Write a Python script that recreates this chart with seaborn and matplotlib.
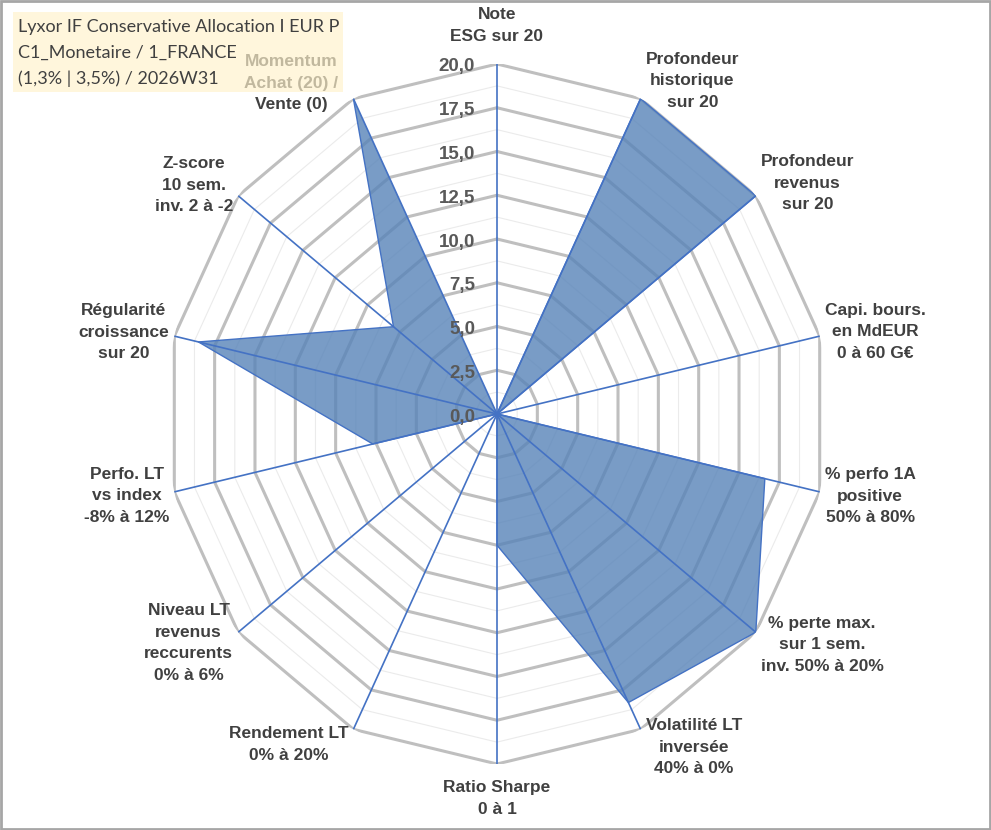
import numpy as np
import matplotlib
matplotlib.use("Agg")
import matplotlib.pyplot as plt
import matplotlib.patches as mpatches
import seaborn as sns

categories = [
    "Note\nESG sur 20",
    "Profondeur\nhistorique\nsur 20",
    "Profondeur\nrevenus\nsur 20",
    "Capi. bours.\nen MdEUR\n0 à 60 G€",
    "% perfo 1A\npositive\n50% à 80%",
    "% perte max.\nsur 1 sem.\ninv. 50% à 20%",
    "Volatilité LT\ninversée\n40% à 0%",
    "Ratio Sharpe\n0 à 1",
    "Rendement LT\n0% à 20%",
    "Niveau LT\nrevenus\nreccurents\n0% à 6%",
    "Perfo. LT\nvs index\n-8% à 12%",
    "Régularité\ncroissance\nsur 20",
    "Z-score\n10 sem.\ninv. 2 à -2",
    "Momentum\nAchat (20) /\nVente (0)",
]
values = [0, 20, 20, 0, 16.6, 20, 18.3, 7.5, 0, 0, 7.7, 18.5, 8.0, 20]
tick_values = [0, 2.5, 5, 7.5, 10, 12.5, 15, 17.5, 20]
tick_labels = ["0,0", "2,5", "5,0", "7,5", "10,0", "12,5", "15,0", "17,5", "20,0"]
title_lines = ["Lyxor IF Conservative Allocation I EUR P",
               "C1_Monetaire / 1_FRANCE",
               "(1,3% | 3,5%) / 2026W31"]

sns.set_theme(style="white")
plt.rcParams["font.family"] = ["Liberation Sans", "DejaVu Sans"]

W, H = 991, 830
fig = plt.figure(figsize=(W / 100, H / 100), dpi=100)
fig.patch.set_facecolor("white")

cx, cy, rx, ry = 497, 414, 331, 350
ax = fig.add_axes([(cx - rx) / W, (H - cy - ry) / H, 2 * rx / W, 2 * ry / H],
                  projection="polar")
ax.set_aspect("auto")
ax.set_theta_zero_location("N")
ax.set_theta_direction(-1)
ax.set_ylim(0, 20)
ax.set_xticks([])
ax.set_yticks([])
ax.grid(False)
ax.spines["polar"].set_visible(False)
ax.set_facecolor("none")

n = len(categories)
theta = np.arange(n) * 2 * np.pi / n
theta_c = np.append(theta, theta[0])

# minor rings
for r in np.arange(1.25, 20, 2.5):
    ax.plot(theta_c, [r] * (n + 1), color="#ebebeb", lw=0.8, zorder=1)
# major rings
for r in tick_values[1:]:
    ax.plot(theta_c, [r] * (n + 1), color="#bfbfbf", lw=2.2, zorder=2,
            solid_joinstyle="miter")

vals_c = np.append(values, values[0])
ax.fill(theta_c, vals_c, facecolor="#5783b8", alpha=0.8, edgecolor="none",
        zorder=3)
sns.lineplot(x=theta_c, y=vals_c, sort=False, ax=ax, color="#4472c4",
             lw=1.0, zorder=4)

# spokes
for t in theta:
    ax.plot([t, t], [0, 20], color="#4472c4", lw=1.2, zorder=5)

# radial tick labels
for v, lab in zip(tick_values, tick_labels):
    ax.annotate(lab, xy=(0, v), xytext=(-22, -3), textcoords="offset pixels",
                ha="right", va="center", fontsize=13.5, fontweight="bold",
                color="#595959", zorder=6)

# category labels
for t, lab in zip(theta, categories):
    s, c = np.sin(t), np.cos(t)
    if abs(s) < 0.05:
        if c > 0:
            kw = dict(xytext=(0, 20), ha="center", va="bottom")
        else:
            kw = dict(xytext=(0, -16), ha="center", va="top")
    elif s > 0:
        kw = dict(xytext=(5, 20 * c), ha="left", va="center")
    else:
        kw = dict(xytext=(-5 - 10 * (c > 0.85), 17 * c), ha="right", va="center")
    ax.annotate(lab, xy=(t, 20), textcoords="offset pixels",
                fontsize=12.5, fontweight="bold", color="#404040",
                multialignment="center", linespacing=1.55, zorder=6,
                annotation_clip=False, **kw)

# title box
box = mpatches.Rectangle((13 / W, 1 - 92 / H), 330 / W, 80 / H,
                         transform=fig.transFigure, facecolor="#fff2cc",
                         alpha=0.68, edgecolor="none", zorder=5)
fig.patches.append(box)
for i, line in enumerate(title_lines):
    fig.text(18 / W, 1 - (27 + 26 * i) / H, line, ha="left", va="center",
             fontsize=13, color="#404040", family=["Lato", "DejaVu Sans"],
             zorder=6)

# outer frame
frame = mpatches.Rectangle((0.001, 0.001), 0.998, 0.998, transform=fig.transFigure,
                           facecolor="none", edgecolor="#a6a6a6", lw=2, zorder=7)
fig.patches.append(frame)

fig.savefig("out.png", dpi=100)
